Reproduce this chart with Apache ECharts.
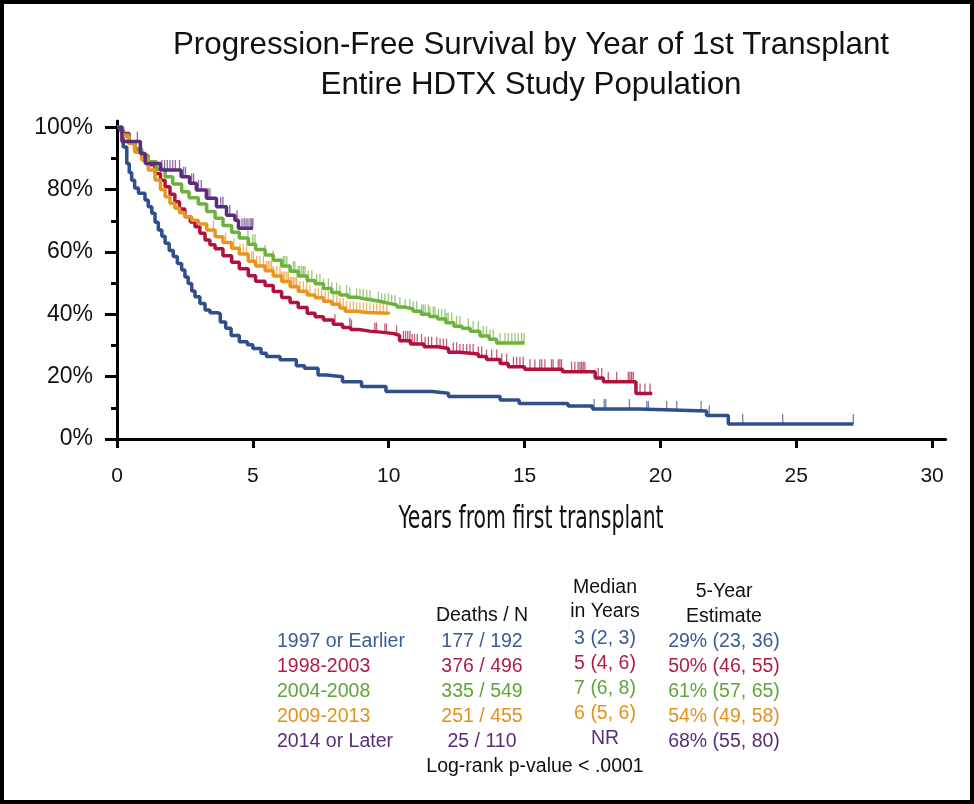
<!DOCTYPE html>
<html>
<head>
<meta charset="utf-8">
<script src="https://cdn.jsdelivr.net/npm/echarts@6/dist/echarts.min.js"></script>
<style>
html,body{margin:0;padding:0;background:#fff;}
#chart{width:974px;height:804px;}
</style>
</head>
<body>
<div id="chart"></div>
<script>
// ---- Data ----
const xTicks = [0, 5, 10, 15, 20, 25, 30];
const yTicks = [0, 20, 40, 60, 80, 100];
const yMinorTicks = [10, 30, 50, 70, 90];

const groupNames = ['1997 or Earlier', '1998-2003', '2004-2008', '2009-2013', '2014 or Later'];
const deathsN = ['177 / 192', '376 / 496', '335 / 549', '251 / 455', '25 / 110'];
const medians = ['3 (2, 3)', '5 (4, 6)', '7 (6, 8)', '6 (5, 6)', 'NR'];
const fiveYear = ['29% (23, 36)', '50% (46, 55)', '61% (57, 65)', '54% (49, 58)', '68% (55, 80)'];

// 1997 or Earlier
const blueT = [0, 0.1, 0.23, 0.36, 0.45, 0.54, 0.65, 0.79, 1.03, 1.15, 1.28, 1.4, 1.52, 1.65, 1.77, 1.92, 2.07, 2.22, 2.38, 2.5, 2.62, 2.75, 2.87, 3.05, 3.24, 3.42, 3.7, 3.8, 4.0, 4.2, 4.5, 4.8, 5.0, 5.3, 5.5, 6.0, 6.6, 6.9, 7.4, 7.7, 8.3, 9.0, 9.9, 11.6, 12.2, 14.1, 14.8, 16.6, 17.5, 19.2, 21.7, 22.5, 27.1];
const blueS = [100, 99, 93.7, 88.4, 85.5, 83, 80.5, 78.8, 76.7, 74.5, 72.4, 69.5, 67, 65, 62.8, 60.5, 58.5, 56.3, 54.2, 52, 49.9, 47.5, 45.6, 43.5, 41.4, 40.5, 40.2, 37.5, 35.5, 33.2, 31.2, 30.2, 29, 27.5, 26.5, 25.4, 23.5, 22.7, 20.5, 20, 18.4, 16.8, 15.2, 14.7, 13.6, 12.5, 11.4, 10.6, 9.6, 9.0, 7.5, 4.8, 4.8];
const blueCensor = [17.56, 17.93, 17.99, 18.86, 19.5, 19.56, 20.23, 20.6, 21.5, 21.8, 23.03, 24.5, 27.1];

// 1998-2003
const redT = [0, 0.2, 0.45, 0.65, 0.91, 1.15, 1.4, 1.6, 1.77, 1.95, 2.13, 2.3, 2.5, 2.7, 2.87, 3.05, 3.24, 3.42, 3.61, 3.9, 4.22, 4.5, 4.83, 5.1, 5.45, 5.75, 6.06, 6.37, 6.67, 7.0, 7.29, 7.6, 7.96, 8.3, 8.6, 8.9, 9.3, 9.8, 10.2, 10.4, 10.8, 11.3, 11.8, 12.2, 12.6, 13.3, 13.6, 14.1, 14.4, 15.0, 16.4, 17.6, 17.9, 19.1, 19.7];
const redS = [100, 98, 95, 92.5, 90.5, 88, 85.2, 83, 80.9, 78.5, 76.1, 73.8, 71.3, 69.6, 68.1, 66, 63.8, 62.3, 61, 58.8, 56.7, 54.6, 52.4, 50.6, 49.2, 47.3, 45.4, 43.8, 42.2, 40.3, 39.2, 38.2, 36.8, 35.8, 35.1, 34.6, 34.2, 33.8, 33.2, 31.5, 30.5, 29.6, 29, 27.8, 27.3, 26.5, 25.5, 24.2, 23.2, 22.4, 21.6, 19.6, 18.4, 14.6, 14.6];
const redCensor = [8.02, 8.57, 8.63, 9.49, 9.55, 9.86, 9.92, 10.29, 10.54, 10.62, 10.7, 10.78, 10.86, 10.95, 11.05, 11.21, 11.34, 11.46, 11.58, 11.77, 11.89, 12.01, 12.13, 12.38, 12.5, 12.62, 12.74, 12.87, 12.99, 13.11, 13.3, 13.42, 13.6, 13.79, 13.97, 14.16, 14.34, 14.59, 14.71, 14.83, 14.95, 15.2, 15.38, 15.56, 15.63, 15.75, 15.99, 16.05, 16.24, 16.3, 16.36, 16.73, 16.85, 16.97, 17.04, 17.1, 17.16, 17.22, 17.71, 17.84, 18.08, 18.39, 18.82, 18.88, 18.94, 19.0, 19.25, 19.43, 19.62];

// 2004-2008
const greenT = [0, 0.2, 0.45, 0.66, 0.9, 1.15, 1.45, 1.77, 2.05, 2.38, 2.65, 2.99, 3.3, 3.61, 3.9, 4.22, 4.5, 4.83, 5.1, 5.45, 5.75, 6.06, 6.37, 6.67, 7.0, 7.29, 7.6, 7.9, 8.2, 8.5, 8.8, 9.1, 9.4, 9.7, 10.0, 10.3, 10.6, 10.9, 11.2, 11.5, 11.8, 12.1, 12.4, 12.7, 13.0, 13.36, 13.7, 13.97, 15.0];
const greenS = [100, 97.5, 95, 93.2, 91, 88.9, 86.5, 84.1, 81.8, 79.3, 77.4, 75.4, 73, 70.8, 68.5, 66.3, 64.5, 62.5, 60.8, 59, 57.3, 55.5, 53.8, 52.3, 50.8, 49.8, 48.3, 47, 46.2, 45.5, 45, 44.6, 44.1, 43.5, 43, 42.3, 41.7, 41, 40, 39.3, 38.5, 37.3, 36.2, 35.5, 34.6, 33, 32, 30.8, 30.8];
const greenCensor = [4.82, 5.0, 5.08, 5.45, 5.75, 6.12, 6.18, 6.25, 6.49, 6.55, 6.67, 6.73, 6.8, 6.86, 6.92, 7.04, 7.17, 7.35, 7.47, 7.6, 7.78, 7.9, 8.08, 8.2, 8.45, 8.57, 8.82, 8.94, 9.06, 9.19, 9.31, 9.62, 9.74, 9.86, 9.99, 10.11, 10.23, 10.41, 10.6, 10.78, 10.9, 11.03, 11.21, 11.27, 11.34, 11.46, 11.52, 11.64, 11.7, 11.83, 11.95, 12.07, 12.13, 12.19, 12.32, 12.5, 12.62, 12.93, 13.11, 13.3, 13.48, 13.6, 13.73, 13.85, 14.1, 14.28, 14.4, 14.53, 14.65, 14.77, 14.89, 14.98];

// 2009-2013
const orangeT = [0, 0.2, 0.42, 0.65, 0.91, 1.15, 1.4, 1.6, 1.77, 1.95, 2.13, 2.3, 2.5, 2.75, 2.99, 3.3, 3.61, 3.9, 4.22, 4.5, 4.83, 5.1, 5.45, 5.75, 6.06, 6.37, 6.67, 7.0, 7.29, 7.6, 7.9, 8.2, 8.4, 8.8, 9.2, 10.0];
const orangeS = [100, 97, 94.8, 92, 89.5, 86.3, 83.1, 80, 77.7, 75.6, 74, 72.6, 71.3, 70.2, 69, 67, 64.9, 63, 61.2, 59.3, 57, 55.5, 54, 52.3, 50.5, 48.8, 47.4, 46.2, 45.3, 44.2, 43.2, 42, 41, 40.6, 40.3, 40];
const orangeCensor = [3.55, 4.0, 4.3, 4.53, 4.65, 4.77, 4.96, 5.02, 5.14, 5.26, 5.39, 5.51, 5.57, 5.63, 5.69, 5.75, 5.88, 6.0, 6.06, 6.12, 6.18, 6.25, 6.31, 6.37, 6.43, 6.49, 6.55, 6.61, 6.74, 6.86, 6.98, 7.1, 7.29, 7.41, 7.53, 7.66, 7.78, 7.96, 8.09, 8.21, 8.33, 8.45, 8.58, 8.7, 8.82, 8.94, 9.07, 9.19, 9.31, 9.44, 9.56, 9.68, 9.8, 9.93];

// 2014 or Later
const purpleT = [0, 0.18, 0.86, 1.04, 1.6, 2.36, 2.67, 2.92, 3.29, 3.66, 4.03, 4.34, 4.47, 5.0];
const purpleS = [100, 95.4, 91.6, 88.4, 86.3, 84.1, 82, 79.9, 77.2, 74.5, 71.8, 70.2, 67.6, 67.6];
const purpleCensor = [0.75, 1.65, 1.75, 1.85, 1.95, 2.05, 2.15, 2.3, 2.45, 2.52, 2.75, 2.82, 3.0, 3.1, 3.35, 3.42, 3.82, 3.9, 4.15, 4.42, 4.6, 4.68, 4.75, 4.82, 4.9, 4.96, 5.0];

const lineColors = ['#2e4f8b', '#b0123d', '#6cb23c', '#e8961f', '#5b2c7c'];
const textColors = ['#3a5b96', '#b01c45', '#5fa53a', '#e2921c', '#5a2e77'];

// ---- Build ----
function zip(T, S) { return T.map((t, i) => [t, S[i]]); }
function stepAt(T, S, t) {
  let v = S[0];
  for (let i = 0; i < T.length; i++) { if (T[i] <= t) v = S[i]; else break; }
  return v;
}
const curves = [[blueT, blueS, blueCensor], [redT, redS, redCensor], [greenT, greenS, greenCensor], [orangeT, orangeS, orangeCensor], [purpleT, purpleS, purpleCensor]];

const series = [];
curves.forEach((c, k) => {
  series.push({
    type: 'line', step: 'end', data: zip(c[0], c[1]), showSymbol: false,
    lineStyle: { color: lineColors[k], width: 3.5 }, itemStyle: { color: lineColors[k] },
    z: 2 + k, silent: true
  });
  series.push({
    type: 'scatter', data: c[2].map(t => [t, stepAt(c[0], c[1], t)]),
    symbol: 'rect', symbolSize: [1.3, 10], symbolOffset: [0, -5],
    itemStyle: { color: lineColors[k], opacity: 0.7 }, z: 2 + k, silent: true
  });
});

const FONT = '"Liberation Sans", Arial, Helvetica, sans-serif';
const graphics = [];
graphics.push({ type: 'rect', shape: { x: 2, y: 2, width: 970, height: 800 }, style: { fill: 'none', stroke: '#000', lineWidth: 4 }, z: 100 });
function txt(text, x, y, size, color, align, family, sx) {
  graphics.push({ type: 'text', x: x, y: y, z: 50, scaleX: sx || 1, style: {
    text: text, font: size + 'px ' + (family || FONT), fill: color,
    align: align, textAlign: align, verticalAlign: 'middle', textVerticalAlign: 'middle' } });
}
txt('Progression-Free Survival by Year of 1st Transplant', 531, 45, 31.3, '#111', 'center');
txt('Entire HDTX Study Population', 531, 85, 31.3, '#111', 'center');
txt('Years from first transplant', 531, 520, 32, '#111', 'center', '"DejaVu Sans Condensed", sans-serif', 0.71);

const TS = 19.5;
txt('Deaths / N', 482, 616, TS, '#111', 'center');
txt('Median', 605, 588, TS, '#111', 'center');
txt('in Years', 605, 612, TS, '#111', 'center');
txt('5-Year', 724, 592, TS, '#111', 'center');
txt('Estimate', 724, 617, TS, '#111', 'center');
const rowY = [642, 667, 692, 717, 742];
groupNames.forEach((g, i) => {
  txt(g, 277, rowY[i], TS, textColors[i], 'left');
  txt(deathsN[i], 482, rowY[i], TS, textColors[i], 'center');
  txt(medians[i], 605, rowY[i] - 3, TS, textColors[i], 'center');
  txt(fiveYear[i], 724, rowY[i], TS, textColors[i], 'center');
});
txt('Log-rank p-value < .0001', 535, 767, TS, '#111', 'center');

const chart = echarts.init(document.getElementById('chart'), null, { renderer: 'canvas' });
chart.setOption({
  animation: false,
  backgroundColor: '#fff',
  grid: { left: 117, right: 28.3, top: 121, bottom: 365, containLabel: false },
  xAxis: {
    type: 'value', min: 0, max: 30.5,
    axisLine: { show: true, lineStyle: { color: '#000', width: 3 } },
    axisTick: { show: true, customValues: xTicks, length: 9, lineStyle: { color: '#000', width: 3 } },
    axisLabel: { customValues: xTicks, fontSize: 21, color: '#111', margin: 27, fontFamily: FONT },
    splitLine: { show: false }
  },
  yAxis: [{
    type: 'value', min: 0, max: 102, position: 'left',
    axisLine: { show: true, lineStyle: { color: '#000', width: 3 } },
    axisTick: { show: true, customValues: yTicks, length: 12, lineStyle: { color: '#000', width: 3 } },
    axisLabel: { customValues: yTicks, formatter: '{value}%', fontSize: 23, color: '#111', margin: 24, fontFamily: FONT },
    splitLine: { show: false }
  }, {
    type: 'value', min: 0, max: 102, position: 'left',
    axisLine: { show: false },
    axisTick: { show: true, customValues: yMinorTicks, length: 6, lineStyle: { color: '#000', width: 3 } },
    axisLabel: { show: false },
    splitLine: { show: false }
  }],
  series: series,
  graphic: graphics
});
</script>
</body>
</html>
